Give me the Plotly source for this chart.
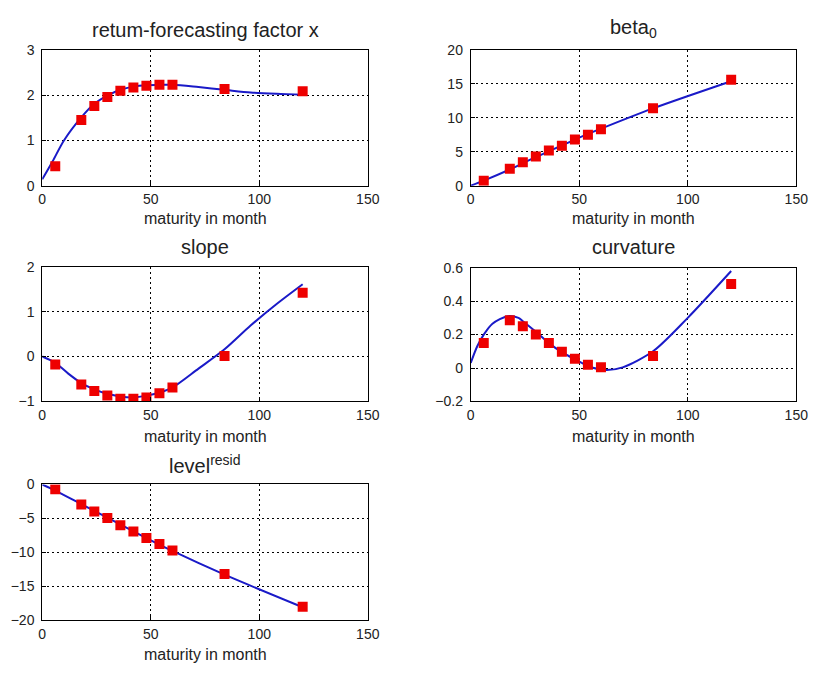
import plotly.graph_objects as go

# Maturities (months) of the observed yields
maturity = [6, 18, 24, 30, 36, 42, 48, 54, 60, 84, 120]

# Loadings estimated at each maturity (squares)
factor_x_pts = [0.43, 1.45, 1.76, 1.96, 2.10, 2.17, 2.21, 2.23, 2.23, 2.14, 2.09]
beta0_pts = [0.72, 2.5, 3.45, 4.3, 5.2, 5.9, 6.8, 7.5, 8.3, 11.4, 15.6]
slope_pts = [-0.18, -0.62, -0.77, -0.87, -0.94, -0.94, -0.91, -0.82, -0.69, 0.01, 1.42]
curv_pts = [0.149, 0.285, 0.25, 0.20, 0.149, 0.097, 0.056, 0.019, 0.004, 0.072, 0.502]
level_pts = [-0.72, -2.97, -3.98, -4.94, -6.0, -6.95, -7.91, -8.78, -9.74, -13.19, -18.03]

# Smooth fitted loading curves (lines)
fx_m = [0, 4.8, 10, 18, 24, 30, 36, 42, 48, 60, 72, 84, 96, 108, 120]
fx_v = [0.14, 0.54, 1.0, 1.51, 1.81, 1.99, 2.12, 2.19, 2.22, 2.23, 2.18, 2.12, 2.06, 2.03, 2.01]
b0_m = [0, 6, 18, 30, 48, 60, 84, 120]
b0_v = [0.0, 0.75, 2.4, 4.2, 6.8, 8.4, 11.4, 15.4]
sl_m = [0, 6, 12, 18, 24, 30, 36, 42, 48, 54, 60, 72, 84, 96, 108, 120]
sl_v = [0.0, -0.14, -0.38, -0.59, -0.73, -0.83, -0.89, -0.91, -0.87, -0.80, -0.69, -0.27, 0.16, 0.69, 1.17, 1.61]
cv_m = [0, 3, 6, 10, 17, 22, 24, 30, 36, 42, 48, 54, 62, 70, 84, 100, 120]
cv_v = [0.03, 0.13, 0.2, 0.265, 0.31, 0.30, 0.28, 0.217, 0.149, 0.095, 0.052, 0.012, -0.012, 0.004, 0.10, 0.30, 0.58]
lv_m = [0, 6, 18, 30, 48, 60, 84, 120]
lv_v = [0.0, -0.9, -2.9, -4.9, -7.9, -9.8, -13.3, -18.1]

x_ticks = [0, 50, 100, 150]

panels = [
    dict(title="retum-forecasting factor x", pts=factor_x_pts, lm=fx_m, lv=fx_v,
         yr=[0, 3], yt=[0, 1, 2, 3], dx=(39, 371), dy=(43, 182), ty=23, xt=216),
    dict(title="beta<sub>0</sub>", pts=beta0_pts, lm=b0_m, lv=b0_v,
         yr=[0, 20], yt=[0, 5, 10, 15, 20], dx=(476, 808), dy=(43, 182), ty=21, xt=216),
    dict(title="slope", pts=slope_pts, lm=sl_m, lv=sl_v,
         yr=[-1, 2], yt=[-1, 0, 1, 2], dx=(39, 371), dy=(265, 403), ty=245, xt=439),
    dict(title="curvature", pts=curv_pts, lm=cv_m, lv=cv_v,
         yr=[-0.2, 0.6], yt=[-0.2, 0, 0.2, 0.4, 0.6], dx=(476, 808), dy=(266, 403), ty=245, xt=439),
    dict(title="level<sup>resid</sup>", pts=level_pts, lm=lv_m, lv=lv_v,
         yr=[-20, 0], yt=[-20, -15, -10, -5, 0], dx=(39, 371), dy=(488, 627), ty=468, xt=662),
]

W, H = 822, 675
FONT = "Liberation Sans, Arial, sans-serif"
TXT = "#222222"

fig = go.Figure()
annotations = []

for i, p in enumerate(panels):
    n = "" if i == 0 else str(i + 1)
    xa, ya = "x" + n, "y" + n
    fig.add_trace(go.Scatter(
        x=p["lm"], y=p["lv"], mode="lines", xaxis=xa, yaxis=ya,
        line=dict(color="#1a1ac8", width=2, shape="spline", smoothing=0.8),
        showlegend=False, hoverinfo="skip"))
    fig.add_trace(go.Scatter(
        x=maturity, y=p["pts"], mode="markers", xaxis=xa, yaxis=ya,
        marker=dict(symbol="square", size=10, color="#ee0000", line=dict(width=0)),
        showlegend=False))

    axis_common = dict(
        showline=True, mirror=True, linecolor="black", linewidth=1,
        ticks="inside", ticklen=4, tickcolor="black",
        showgrid=True, gridcolor="black", gridwidth=1, griddash="2px,3px",
        zeroline=False, tickfont=dict(family=FONT, size=14, color=TXT),
    )
    fig.layout["xaxis" + n] = dict(
        axis_common, domain=[p["dx"][0] / W, p["dx"][1] / W], range=[0, 150],
        tickvals=x_ticks, anchor=ya, ticklabelstandoff=1)
    fig.layout["yaxis" + n] = dict(
        axis_common, domain=[1 - p["dy"][1] / H, 1 - p["dy"][0] / H], range=p["yr"],
        tickvals=p["yt"], anchor=xa, ticklabelstandoff=4)

    cx = (p["dx"][0] + p["dx"][1]) / 2 / W
    annotations.append(dict(
        text=p["title"], x=cx, y=1 - p["ty"] / H, xref="paper", yref="paper",
        xanchor="center", yanchor="middle", showarrow=False,
        font=dict(family=FONT, size=20, color=TXT)))
    annotations.append(dict(
        text="maturity in month", x=cx, y=1 - p["xt"] / H, xref="paper", yref="paper",
        xanchor="center", yanchor="middle", showarrow=False,
        font=dict(family=FONT, size=16, color=TXT)))

fig.update_layout(
    width=W, height=H, margin=dict(l=0, r=0, t=0, b=0),
    paper_bgcolor="white", plot_bgcolor="white",
    annotations=annotations, showlegend=False,
)

fig.write_html("out.html")
